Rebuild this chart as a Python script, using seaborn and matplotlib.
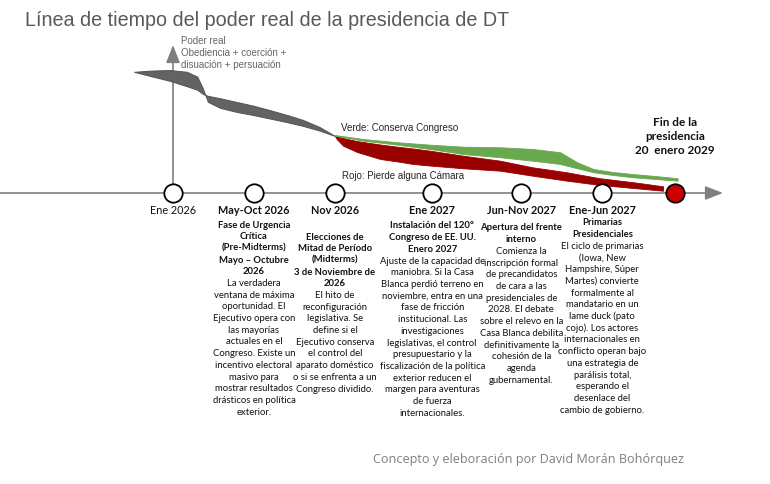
import matplotlib
matplotlib.use("Agg")
import matplotlib.pyplot as plt
import seaborn as sns

# hitos de la linea de tiempo (posicion en pasos de la linea)
hitos = ["Ene 2026", "May-Oct 2026", "Nov 2026", "Ene 2027", "Jun-Nov 2027", "Ene-Jun 2027"]
pos_hitos = [0, 1, 2, 3.2, 4.3, 5.3]
pos_fin = 6.2

# banda gris: poder real hasta las midterms (dos bordes que se cruzan)
gris_x = [-0.48, -0.28, -0.04, 0.17, 0.30, 0.37, 0.43, 0.58, 0.79, 0.99, 1.20, 1.41, 1.60, 1.81, 2.0]
gris_a = [101, 102, 102.5, 101, 97, 87, 76, 71, 67.5, 65, 62, 59, 56, 52, 47.5]
gris_b = [101, 97.5, 93.5, 89, 86, 82.5, 81, 79, 75.8, 72.8, 69, 65, 61, 55, 47.5]

# escenario verde: conserva Congreso
verde_x = [2.0, 2.35, 2.77, 3.17, 3.58, 4.04, 4.44, 4.78, 4.99, 5.19, 5.43, 5.68, 5.95, 6.23]
verde_sup = [48.3, 45, 42.3, 40.3, 38.6, 38.1, 36.7, 34, 25.6, 20, 17.5, 15.8, 14.2, 12.3]
verde_inf = [47.8, 43.6, 40.3, 36.7, 32.5, 29.8, 26.9, 24.2, 20.6, 17.3, 15, 13.1, 11.7, 10.3]

# escenario rojo: pierde alguna Camara
rojo_x = [2.0, 2.02, 2.10, 2.27, 2.56, 2.77, 2.96, 3.17, 3.58, 4.04, 4.44, 4.86, 5.27, 5.68, 6.05]
rojo_sup = [47.5, 47.1, 45.8, 43.3, 40.4, 38.6, 37.1, 35.3, 31.1, 26.9, 21.4, 17.3, 12.3, 9.0, 5.6]
rojo_inf = [47.5, 45, 39.4, 34.2, 28.3, 26.3, 24.2, 22.9, 20.6, 18.6, 14.4, 10.3, 6.7, 4.2, 1.9]

# textos de cada columna (hitos 1..5)
col_negrita = [
    ["Fase de Urgencia", "Crítica", "(Pre-Midterms)", "Mayo – Octubre", "2026"],
    ["Elecciones de", "Mitad de Período", "(Midterms)", "3 de Noviembre de", "2026"],
    ["Instalación del 120°", "Congreso de EE. UU.", "Enero 2027"],
    ["Apertura del frente", "interno"],
    ["Primarias", "Presidenciales"],
]
col_texto = [
    ["La verdadera", "ventana de máxima", "oportunidad. El", "Ejecutivo opera con",
     "las mayorías", "actuales en el", "Congreso. Existe un", "incentivo electoral",
     "masivo para", "mostrar resultados", "drásticos en política", "exterior."],
    ["El hito de", "reconfiguración", "legislativa. Se", "define si el",
     "Ejecutivo conserva", "el control del", "aparato doméstico",
     "o si se enfrenta a un", "Congreso dividido."],
    ["Ajuste de la capacidad de", "maniobra. Si la Casa", "Blanca perdió terreno en",
     "noviembre, entra en una", "fase de fricción", "institucional. Las",
     "investigaciones", "legislativas, el control", "presupuestario y la",
     "fiscalización de la política", "exterior reducen el", "margen para aventuras",
     "de fuerza", "internacionales."],
    ["Comienza la", "inscripción formal", "de precandidatos", "de cara a las",
     "presidenciales de", "2028. El debate", "sobre el relevo en la",
     "Casa Blanca debilita", "definitivamente la", "cohesión de la", "agenda",
     "gubernamental."],
    ["El ciclo de primarias", "(Iowa, New", "Hampshire, Súper", "Martes) convierte",
     "formalmente al", "mandatario en un", "lame duck (pato", "cojo). Los actores",
     "internacionales en", "conflicto operan bajo", "una estrategia de",
     "parálisis total,", "esperando el", "desenlace del", "cambio de gobierno."],
]
col_y0 = [225, 237, 226, 228, 223]  # px desde arriba, primera linea

sns.set_theme(style="white")
plt.rcParams['font.family'] = ['Lato', 'DejaVu Sans']

W, H = 770, 485
fig = plt.figure(figsize=(7.7, 4.85), dpi=100)
ax = fig.add_axes([0, 0, 1, 1])
ax.axis('off')
# 1 paso = 81 px, eje en y=194 px, 1 unidad de poder = 1.2 px
ax.set_xlim(-173 / 81, (W - 173) / 81)
ax.set_ylim((194 - H) / 1.2, 194 / 1.2)


def fy(py):
    return 1 - py / H


def cx(pos):
    return (173 + 81 * pos) / W


# ejes con flecha
flecha = dict(arrowstyle='-|>,head_length=0.9,head_width=0.35',
              color='#7f7f7f', lw=1.2, mutation_scale=12, shrinkA=0, shrinkB=0)
ax.annotate('', xy=((723 - 173) / 81, 0), xytext=(-2.2, 0), arrowprops=flecha, zorder=1)
ax.annotate('', xy=(0, (194 - 46) / 1.2), xytext=(0, 0), arrowprops=flecha, zorder=1)

# bandas
ax.fill_between(gris_x, gris_a, gris_b, color='#636363', lw=0.7, edgecolor='#555555', zorder=2)
ax.fill_between(rojo_x, rojo_sup, rojo_inf, color='#990000', lw=0.6, edgecolor='#990000', zorder=3)
ax.fill_between(verde_x, verde_sup, verde_inf, color='#6aa84f', lw=0.6, edgecolor='#6aa84f', zorder=3)

# hitos
sns.scatterplot(x=pos_hitos, y=[0] * len(pos_hitos), ax=ax, s=175, color='white',
                edgecolor='black', linewidth=1.3, zorder=5)
sns.scatterplot(x=[pos_fin], y=[0], ax=ax, s=175, color='#cc0000',
                edgecolor='black', linewidth=1.3, zorder=5)

# titulo y textos
fig.text(25 / W, fy(20), "Línea de tiempo del poder real de la presidencia de DT",
         fontsize=14.2, color='#595959', family='Liberation Sans', va='center', ha='left')
for i, t in enumerate(["Poder real", "Obediencia + coerción +", "disuación + persuación"]):
    fig.text(181 / W, fy(41.5 + i * 11.5), t, fontsize=7, color='#666666',
             family='Liberation Sans', va='center', ha='left')
fig.text(341 / W, fy(128), "Verde: Conserva Congreso", fontsize=7, color='#262626',
         family='Liberation Sans', va='center', ha='left')
fig.text(342 / W, fy(176), "Rojo: Pierde alguna Cámara", fontsize=7, color='#262626',
         family='Liberation Sans', va='center', ha='left')
for i, t in enumerate(["Fin de la", "presidencia", "20  enero 2029"]):
    fig.text(cx(pos_fin), fy(122 + i * 14.5), t, fontsize=8.5, weight='bold',
             color='#111111', va='center', ha='center')

for i, (h, p) in enumerate(zip(hitos, pos_hitos)):
    fig.text(cx(p), fy(211), h, fontsize=7.8, weight='normal' if i == 0 else 'bold',
             color='#111111', va='center', ha='center')

paso = 11.7
for j, (neg, txt, y0) in enumerate(zip(col_negrita, col_texto, col_y0)):
    x = cx(pos_hitos[j + 1])
    for k, t in enumerate(neg):
        fig.text(x, fy(y0 + k * paso), t, fontsize=6.8, weight='bold',
                 color='#111111', va='center', ha='center')
    for k, t in enumerate(txt):
        fig.text(x, fy(y0 + (len(neg) + k) * paso), t, fontsize=6.8,
                 color='#111111', va='center', ha='center')

fig.text(373 / W, fy(460), "Concepto y eleboración por David Morán Bohórquez",
         fontsize=9.1, color='#7f7f7f', family='Open Sans', va='center', ha='left')

fig.savefig('out.png', dpi=100)
